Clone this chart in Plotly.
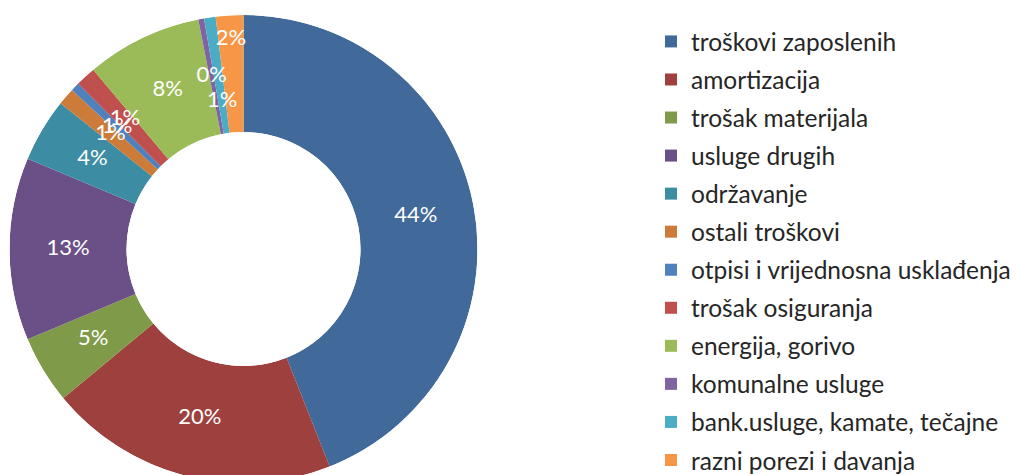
import plotly.graph_objects as go

categories = [
    "troškovi zaposlenih", "amortizacija", "trošak materijala", "usluge drugih",
    "održavanje", "ostali troškovi", "otpisi i vrijednosna usklađenja",
    "trošak osiguranja", "energija, gorivo", "komunalne usluge",
    "bank.usluge, kamate, tečajne", "razni porezi i davanja",
]
shares = [44.0, 20.0, 4.7, 12.6, 4.4, 1.2, 0.6, 1.4, 8.0, 0.4, 0.8, 1.9]
colors = [
    "#416A9B", "#9E413E", "#7F9A48", "#6A5087", "#3C8DA3", "#CC7B38",
    "#4F81BD", "#C0504D", "#9BBB59", "#8064A2", "#4BACC6", "#F79646",
]
# radial placement of each percentage label inside the ring (0 = inner edge, 1 = outer edge)
label_radius = [0.5, 0.5, 0.5, 0.5, 0.5, 0.5, 0.5, 0.5, 0.5, 0.5, 0.27, 0.79]

FONT = "Lato, 'Open Sans', sans-serif"
W, H = 1019, 475
TOP = 7

total = sum(shares)
widths = [s / total * 360.0 for s in shares]
centers = []
acc = 0.0
for w in widths:
    centers.append(acc + w / 2)
    acc += w
fractions = [s / total for s in shares]

fig = go.Figure()
for name, col, th, w in zip(categories, colors, centers, widths):
    fig.add_trace(go.Barpolar(
        r=[1], theta=[th], width=[w], base=0, name=name, legendgroup=name,
        marker=dict(color=col, line=dict(width=0)),
        hovertemplate=name + "<extra></extra>",
    ))

fig.add_trace(go.Scatterpolar(
    r=label_radius, theta=centers, mode="text",
    customdata=fractions, texttemplate="%{customdata:.0%}",
    textfont=dict(family=FONT, size=22, color="white"),
    showlegend=False, hoverinfo="skip", cliponaxis=False,
))

fig.update_layout(
    width=W, height=H,
    margin=dict(l=0, r=0, t=TOP, b=0),
    paper_bgcolor="white",
    polar=dict(
        domain=dict(x=[0, 471 / W], y=[0, 1]),
        hole=0.5, bgcolor="rgba(0,0,0,0)",
        radialaxis=dict(visible=False, range=[0, 1]),
        angularaxis=dict(visible=False, rotation=90, direction="clockwise"),
    ),
    legend=dict(
        x=643 / W, xanchor="left", y=0.9875, yanchor="top",
        font=dict(family=FONT, size=24.5, color="#262626"),
        tracegroupgap=3.2, bgcolor="rgba(0,0,0,0)",
    ),
    font=dict(family=FONT),
)

fig.write_html("out.html")
